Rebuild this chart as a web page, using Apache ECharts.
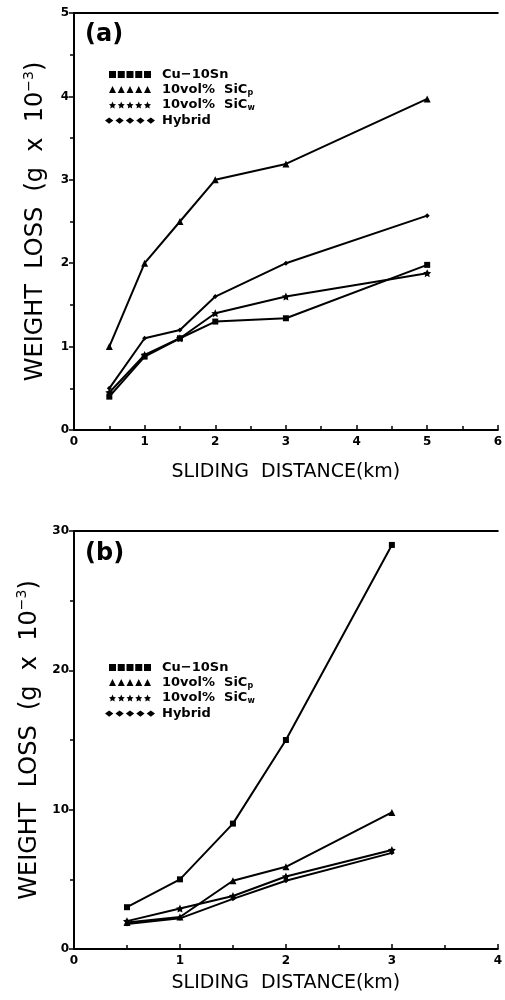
<!DOCTYPE html>
<html>
<head>
<meta charset="utf-8">
<script src="https://cdn.jsdelivr.net/npm/echarts@6/dist/echarts.min.js"></script>
<style>
  html, body { margin: 0; padding: 0; background: #fff; }
  #chart { width: 505px; height: 1000px; }
</style>
</head>
<body>
<div id="chart"></div>
<script>
// --- panel (a) data ---
const distA = [0.5, 1, 1.5, 2, 3, 5]
const cuA = [0.4, 0.88, 1.1, 1.3, 1.34, 1.98]
const sicpA = [1.0, 2.0, 2.5, 3.0, 3.19, 3.97]
const sicwA = [0.45, 0.9, 1.1, 1.4, 1.6, 1.88]
const hybA = [0.5, 1.1, 1.2, 1.6, 2.0, 2.57]

// --- panel (b) data ---
const distB = [0.5, 1, 1.5, 2, 3]
const cuB = [3.0, 5.0, 9.0, 15.0, 29.0]
const sicpB = [1.9, 2.3, 4.9, 5.9, 9.8]
const sicwB = [2.0, 2.9, 3.8, 5.2, 7.1]
const hybB = [1.8, 2.2, 3.6, 4.9, 6.9]

const names = ['Cu-10Sn', '10vol% SiCp', '10vol% SiCw', 'Hybrid']

const STAR = 'path://M0,-10L2.9,-4L9.5,-3.1L4.7,1.5L5.9,8.1L0,5L-5.9,8.1L-4.7,1.5L-9.5,-3.1L-2.9,-4Z'
const symbols = ['rect', 'triangle', STAR, 'diamond']
const sizes = [6, 7, 8, 5]

// legend icons: five markers in a row
const star = dx => `M${dx + 4},0L${dx + 5.2},2.8L${dx + 8},3L${dx + 6},5L${dx + 6.5},8L${dx + 4},6.5L${dx + 1.5},8L${dx + 2},5L${dx},3L${dx + 2.8},2.8Z`
const ICONS = [
  'path://M0,0h8v8h-8zM10,0h8v8h-8zM20,0h8v8h-8zM30,0h8v8h-8zM40,0h8v8h-8z',
  'path://M0,8L4,0L8,8zM10,8L14,0L18,8zM20,8L24,0L28,8zM30,8L34,0L38,8zM40,8L44,0L48,8z',
  'path://' + [0, 10, 20, 30, 40].map(star).join(''),
  'path://M0,4L4,1L8,4L4,7zM10,4L14,1L18,4L14,7zM20,4L24,1L28,4L24,7zM30,4L34,1L38,4L34,7zM40,4L44,1L48,4L44,7z'
]

const FONT = 'DejaVu Sans'

const legendFormatter = name => {
  if (name === 'Cu-10Sn') return 'Cu\u221210Sn'
  if (name === '10vol% SiCp') return '10vol%  SiC{sub|p}'
  if (name === '10vol% SiCw') return '10vol%  SiC{sub|w}'
  return name
}

const makeLegend = top => ({
  orient: 'vertical',
  left: 100,
  top: top,
  itemWidth: 50,
  itemHeight: 7,
  itemGap: 2,
  selectedMode: false,
  formatter: legendFormatter,
  textStyle: {
    fontFamily: FONT, fontSize: 13, fontWeight: 'bold', color: '#000', padding: [0, 0, 0, 2],
    rich: { sub: { fontFamily: FONT, fontSize: 8, fontWeight: 'bold', verticalAlign: 'bottom', padding: [6, 0, 0, 0] } }
  },
  data: names.map((n, i) => ({ name: n, icon: ICONS[i], itemStyle: { color: '#000', borderWidth: 0 } }))
})

const yName = {
  t: { fontFamily: FONT, fontSize: 24, color: '#000', lineHeight: 28 },
  s: { fontFamily: FONT, fontSize: 14, color: '#000', verticalAlign: 'top', lineHeight: 28, padding: [0, 0, 10, 0] }
}

const bottomX = (gridIndex, max) => ({
  type: 'value', gridIndex, min: 0, max, interval: 1,
  name: 'SLIDING  DISTANCE(km)',
  nameLocation: 'middle',
  nameGap: gridIndex === 0 ? 33 : 25,
  nameTextStyle: { fontFamily: FONT, fontSize: 19, color: '#000' },
  axisLine: { lineStyle: { color: '#000', width: 2 } },
  axisTick: { inside: true, length: 5, lineStyle: { color: '#000', width: 1.5 } },
  minorTick: { show: true, splitNumber: 2, length: 4, lineStyle: { color: '#000', width: 1.5 } },
  axisLabel: { fontFamily: FONT, fontSize: 12, fontWeight: 'bold', color: '#000', margin: 6 },
  splitLine: { show: false }
})

const topX = (gridIndex, max) => ({
  type: 'value', gridIndex, min: 0, max, position: 'top',
  axisLine: { lineStyle: { color: '#000', width: 2 } },
  axisTick: { show: false }, axisLabel: { show: false }, splitLine: { show: false }
})

const leftY = (gridIndex, max, interval) => ({
  type: 'value', gridIndex, min: 0, max, interval,
  name: '{t|WEIGHT  LOSS  (g  x  10}{s|\u22123}{t|)}',
  nameLocation: 'middle',
  nameGap: 24,
  nameTextStyle: { rich: yName },
  axisLine: { lineStyle: { color: '#000', width: 2 } },
  axisTick: { length: 5, lineStyle: { color: '#000', width: 1.5 } },
  minorTick: { show: true, splitNumber: 2, length: 4, lineStyle: { color: '#000', width: 1.5 } },
  axisLabel: { fontFamily: FONT, fontSize: 12, fontWeight: 'bold', color: '#000', margin: 5 },
  splitLine: { show: false }
})

const line = (name, i, xs, ys, xi, yi) => ({
  name, type: 'line', xAxisIndex: xi, yAxisIndex: yi,
  data: xs.map((x, k) => [x, ys[k]]),
  symbol: symbols[i], symbolSize: sizes[i],
  lineStyle: { color: '#000', width: 2 },
  itemStyle: { color: '#000', borderWidth: 0 },
  animation: false
})

const chart = echarts.init(document.getElementById('chart'))
chart.setOption({
  backgroundColor: '#fff',
  animation: false,
  title: [
    { text: '(a)', left: 80, top: 18, textStyle: { fontFamily: FONT, fontSize: 24, fontWeight: 'bold', color: '#000' } },
    { text: '(b)', left: 80, top: 537, textStyle: { fontFamily: FONT, fontSize: 24, fontWeight: 'bold', color: '#000' } }
  ],
  legend: [makeLegend(63), makeLegend(656)],
  grid: [
    { left: 74, top: 13, width: 425, height: 417 },
    { left: 74, top: 531, width: 428, height: 418 }
  ],
  xAxis: [bottomX(0, 6), bottomX(1, 4), topX(0, 6), topX(1, 4)],
  yAxis: [leftY(0, 5, 1), leftY(1, 30, 10)],
  series: [
    line(names[0], 0, distA, cuA, 0, 0),
    line(names[1], 1, distA, sicpA, 0, 0),
    line(names[2], 2, distA, sicwA, 0, 0),
    line(names[3], 3, distA, hybA, 0, 0),
    line(names[0], 0, distB, cuB, 1, 1),
    line(names[1], 1, distB, sicpB, 1, 1),
    line(names[2], 2, distB, sicwB, 1, 1),
    line(names[3], 3, distB, hybB, 1, 1)
  ]
})
</script>
</body>
</html>
